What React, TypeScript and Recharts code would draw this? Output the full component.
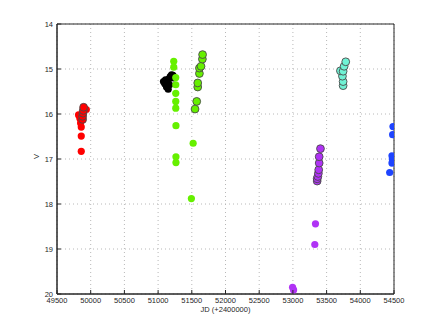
import { ScatterChart, Scatter, XAxis, YAxis, CartesianGrid, ReferenceArea } from 'recharts';

interface Pt { jd: number; v: number; }

const xTicks = [49500, 50000, 50500, 51000, 51500, 52000, 52500, 53000, 53500, 54000, 54500];
const yTicks = [14, 15, 16, 17, 18, 19, 20];

const redFilled: Pt[] = [
  { jd: 49820, v: 16.02 }, { jd: 49840, v: 16.1 }, { jd: 49850, v: 16.2 },
  { jd: 49860, v: 16.29 }, { jd: 49860, v: 16.49 }, { jd: 49860, v: 16.83 },
  { jd: 49935, v: 15.9 },
];
const redRing: Pt[] = [
  { jd: 49880, v: 16.12 }, { jd: 49880, v: 16.05 }, { jd: 49885, v: 15.98 },
  { jd: 49890, v: 15.92 }, { jd: 49895, v: 15.85 },
];
const blackFilled: Pt[] = [
  { jd: 51080, v: 15.28 }, { jd: 51100, v: 15.33 }, { jd: 51125, v: 15.4 },
  { jd: 51150, v: 15.45 }, { jd: 51140, v: 15.3 }, { jd: 51160, v: 15.22 },
  { jd: 51180, v: 15.17 }, { jd: 51200, v: 15.13 }, { jd: 51220, v: 15.14 },
  { jd: 51110, v: 15.24 }, { jd: 51170, v: 15.35 }, { jd: 51230, v: 15.2 },
];
const greenFilled: Pt[] = [
  { jd: 51232, v: 14.83 }, { jd: 51232, v: 14.96 }, { jd: 51262, v: 15.19 },
  { jd: 51262, v: 15.35 }, { jd: 51262, v: 15.54 }, { jd: 51262, v: 15.72 },
  { jd: 51262, v: 15.87 }, { jd: 51265, v: 16.26 }, { jd: 51265, v: 16.95 },
  { jd: 51265, v: 17.08 }, { jd: 51520, v: 16.65 }, { jd: 51494, v: 17.88 },
];
const greenRing: Pt[] = [
  { jd: 51548, v: 15.89 }, { jd: 51573, v: 15.72 }, { jd: 51588, v: 15.4 },
  { jd: 51588, v: 15.31 }, { jd: 51613, v: 15.1 }, { jd: 51613, v: 14.98 },
  { jd: 51637, v: 14.94 }, { jd: 51657, v: 14.78 }, { jd: 51660, v: 14.68 },
];
const purpleFilled: Pt[] = [
  { jd: 52995, v: 19.85 }, { jd: 53010, v: 19.91 }, { jd: 53335, v: 18.44 },
  { jd: 53325, v: 18.9 },
];
const purpleRing: Pt[] = [
  { jd: 53360, v: 17.49 }, { jd: 53360, v: 17.44 }, { jd: 53370, v: 17.39 },
  { jd: 53378, v: 17.32 }, { jd: 53383, v: 17.24 }, { jd: 53390, v: 17.09 },
  { jd: 53390, v: 16.95 }, { jd: 53409, v: 16.77 },
];
const cyanRing: Pt[] = [
  { jd: 53745, v: 15.37 }, { jd: 53745, v: 15.28 }, { jd: 53735, v: 15.16 },
  { jd: 53705, v: 15.04 }, { jd: 53745, v: 15.05 }, { jd: 53760, v: 14.94 },
  { jd: 53784, v: 14.84 },
];
const blueFilled: Pt[] = [
  { jd: 54485, v: 16.28 }, { jd: 54480, v: 16.46 }, { jd: 54470, v: 16.93 },
  { jd: 54475, v: 17.0 }, { jd: 54470, v: 17.09 }, { jd: 54436, v: 17.3 },
];

const font = 'Liberation Sans, Arial, sans-serif';
const ink = '#262626';

// eslint-disable-next-line @typescript-eslint/no-explicit-any
const dot = (fill: string, ring: boolean) => (p: any) => (
  <circle cx={p.cx} cy={p.cy} r={ring ? 3.9 : 3.6} fill={fill}
    stroke={ring ? '#4a4a4a' : 'none'} strokeWidth={ring ? 0.9 : 0} />
);

// eslint-disable-next-line @typescript-eslint/no-explicit-any
const BottomTick = ({ x, y, payload }: any) => (
  <g>
    <line x1={x} x2={x} y1={y} y2={y - 4} stroke={ink} />
    <text x={x} y={y + 8.5} textAnchor="middle" fontSize={7.5} fill={ink} fontFamily={font}>{payload.value}</text>
  </g>
);
// eslint-disable-next-line @typescript-eslint/no-explicit-any
const LeftTick = ({ x, y, payload }: any) => (
  <g>
    <line x1={x} x2={x + 4} y1={y} y2={y} stroke={ink} />
    <text x={x - 4} y={y + 2.5} textAnchor="end" fontSize={7.5} fill={ink} fontFamily={font}>{payload.value}</text>
  </g>
);
// eslint-disable-next-line @typescript-eslint/no-explicit-any
const TopTick = ({ x, y }: any) => <line x1={x} x2={x} y1={y} y2={y + 4} stroke={ink} />;
// eslint-disable-next-line @typescript-eslint/no-explicit-any
const RightTick = ({ x, y }: any) => <line x1={x} x2={x - 4} y1={y} y2={y} stroke={ink} />;

export default function App() {
  return (
    <div style={{ position: 'absolute', left: 0, top: 0, width: 436, height: 331, background: '#fff' }}>
      <ScatterChart width={436} height={331} margin={{ top: 24, right: 42, bottom: 0, left: 0 }}>
        <CartesianGrid stroke="#b8b8b8" strokeDasharray="1 3" />
        <XAxis type="number" dataKey="jd" domain={[49500, 54500]} ticks={xTicks} interval={0}
          height={37} tickSize={0} tickMargin={0} axisLine={{ stroke: ink }} tick={<BottomTick />}
          allowDataOverflow
          label={{ value: 'JD (+2400000)', position: 'insideBottom', offset: 19, fontSize: 7.5, fill: ink, fontFamily: font }} />
        <XAxis xAxisId="top" orientation="top" type="number" domain={[49500, 54500]} ticks={xTicks}
          interval={0} height={0} tickSize={0} tickMargin={0} axisLine={{ stroke: ink }} tick={<TopTick />}
          allowDataOverflow />
        <YAxis type="number" dataKey="v" domain={[14, 20]} reversed ticks={yTicks} interval={0}
          width={57} tickSize={0} tickMargin={0} axisLine={{ stroke: ink }} tick={<LeftTick />}
          allowDataOverflow
          label={{ value: 'V', angle: -90, position: 'insideLeft', offset: 36, fontSize: 7.5, fill: ink, fontFamily: font }} />
        <YAxis yAxisId="right" orientation="right" type="number" domain={[14, 20]} reversed ticks={yTicks}
          interval={0} width={0} tickSize={0} tickMargin={0} axisLine={{ stroke: ink }} tick={<RightTick />}
          allowDataOverflow />
        <ReferenceArea x1={49500} x2={54500} y1={14} y2={20} fill="none" stroke={ink} ifOverflow="visible" />
        <Scatter data={redFilled} shape={dot('#ff0000', false)} isAnimationActive={false} />
        <Scatter data={redRing} shape={dot('#ff0000', true)} isAnimationActive={false} />
        <Scatter data={blackFilled} shape={dot('#000000', false)} isAnimationActive={false} />
        <Scatter data={greenFilled} shape={dot('#66f000', false)} isAnimationActive={false} />
        <Scatter data={greenRing} shape={dot('#66f000', true)} isAnimationActive={false} />
        <Scatter data={purpleFilled} shape={dot('#b033f5', false)} isAnimationActive={false} />
        <Scatter data={purpleRing} shape={dot('#b033f5', true)} isAnimationActive={false} />
        <Scatter data={cyanRing} shape={dot('#70f2d4', true)} isAnimationActive={false} />
        <Scatter data={blueFilled} shape={dot('#1e44ff', false)} isAnimationActive={false} />
      </ScatterChart>
    </div>
  );
}
